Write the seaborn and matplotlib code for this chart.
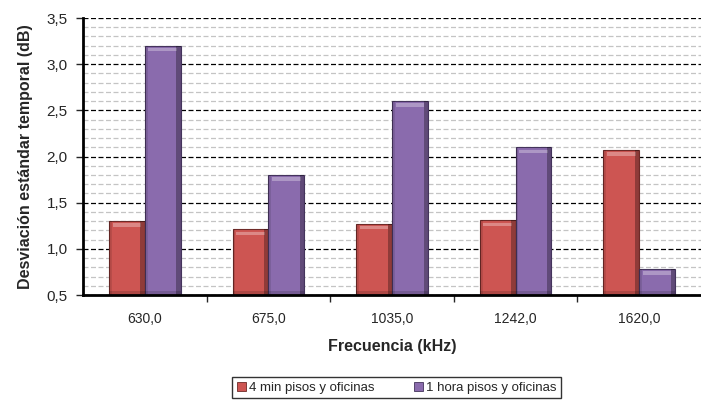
import matplotlib
matplotlib.use('Agg')
import matplotlib.pyplot as plt
import matplotlib.patches as mpatches
from matplotlib.ticker import MultipleLocator, FuncFormatter
import pandas as pd
import seaborn as sns

# Datos
frecuencias = ['630,0', '675,0', '1035,0', '1242,0', '1620,0']
serie_4min = [1.30, 1.21, 1.27, 1.31, 2.07]
serie_1hora = [3.20, 1.80, 2.60, 2.10, 0.78]
nombres = ['4 min pisos y oficinas', '1 hora pisos y oficinas']
colores = ['#CD5552', '#8A6BAD']
bordes = ['#6E2A28', '#44345C']

df = pd.DataFrame({
    'Frecuencia': frecuencias * 2,
    'Valor': serie_4min + serie_1hora,
    'Serie': [nombres[0]] * len(frecuencias) + [nombres[1]] * len(frecuencias),
})

sns.set_style('white')
plt.rcParams['font.family'] = ['Liberation Sans', 'DejaVu Sans']

fig = plt.figure(figsize=(7.01, 4.01), dpi=100)
ax = fig.add_axes([0.1184, 0.2643, 0.8816, 0.6908])

sns.barplot(data=df, x='Frecuencia', y='Valor', hue='Serie', palette=colores,
            saturation=1, width=0.58, gap=0, ax=ax, legend=False, zorder=3)

# Efecto de bisel sencillo sobre cada barra
for i, p in enumerate(list(ax.patches)):
    k = i // len(frecuencias)
    x, y = p.get_x(), p.get_y()
    w, h = p.get_width(), p.get_height()
    ymin = 0.5
    p.set_y(ymin)
    p.set_height(y + h - ymin)
    p.set_edgecolor(bordes[k])
    p.set_linewidth(0.8)
    top = y + h
    ax.add_patch(mpatches.Rectangle((x + w * 0.1, top - 0.06), w * 0.8, 0.035,
                                    facecolor='white', alpha=0.3, lw=0, zorder=4))
    ax.add_patch(mpatches.Rectangle((x + w * 0.88, ymin), w * 0.12, top - ymin,
                                    facecolor='black', alpha=0.3, lw=0, zorder=4))
    ax.add_patch(mpatches.Rectangle((x, ymin), w * 0.08, top - ymin,
                                    facecolor='black', alpha=0.1, lw=0, zorder=4))
    ax.add_patch(mpatches.Rectangle((x, ymin), w, 0.04,
                                    facecolor='black', alpha=0.15, lw=0, zorder=4))

ax.set_ylim(0.5, 3.5)
ax.set_xlim(-0.5, len(frecuencias) - 0.5)
ax.yaxis.set_major_locator(MultipleLocator(0.5))
ax.yaxis.set_minor_locator(MultipleLocator(0.1))
ax.yaxis.set_major_formatter(FuncFormatter(lambda v, _: f'{v:.1f}'.replace('.', ',')))

ax.grid(axis='y', which='major', color='black', linestyle=(0, (4, 2)), linewidth=0.9, zorder=0)
ax.grid(axis='y', which='minor', color='#C4C4C4', linestyle=(0, (4, 2)), linewidth=0.9, zorder=0)
ax.grid(axis='x', visible=False)

for s in ['top', 'right']:
    ax.spines[s].set_visible(False)
for s in ['left', 'bottom']:
    ax.spines[s].set_color('black')
    ax.spines[s].set_linewidth(2)
    ax.spines[s].set_zorder(5)

ax.tick_params(axis='y', which='major', left=True, length=5, width=1, labelsize=11, pad=6)
ax.tick_params(axis='y', which='minor', left=False)
ax.set_xticks(range(len(frecuencias)))
ax.set_xticklabels(frecuencias)
ax.set_xticks([i + 0.5 for i in range(len(frecuencias) - 1)], minor=True)
ax.tick_params(axis='x', which='major', bottom=False, labelsize=10, pad=9)
ax.tick_params(axis='x', which='minor', bottom=True, length=5, width=1)

ax.set_xlabel('Frecuencia (kHz)', fontsize=11.5, fontweight='bold', labelpad=9)
ax.set_ylabel('Desviación estándar temporal (dB)', fontsize=11.5, fontweight='bold', labelpad=10)

handles = [mpatches.Patch(facecolor=colores[k], edgecolor=bordes[k], lw=0.6) for k in range(2)]
fig.legend(handles, nombres, loc='upper center', bbox_to_anchor=(0.566, 0.06),
           ncol=2, frameon=True, fancybox=False, edgecolor='black', fontsize=9.5,
           handlelength=0.7, handleheight=0.7, handletextpad=0.2, columnspacing=3.0,
           borderpad=0.35, borderaxespad=0)

fig.savefig('out.png', dpi=100)
